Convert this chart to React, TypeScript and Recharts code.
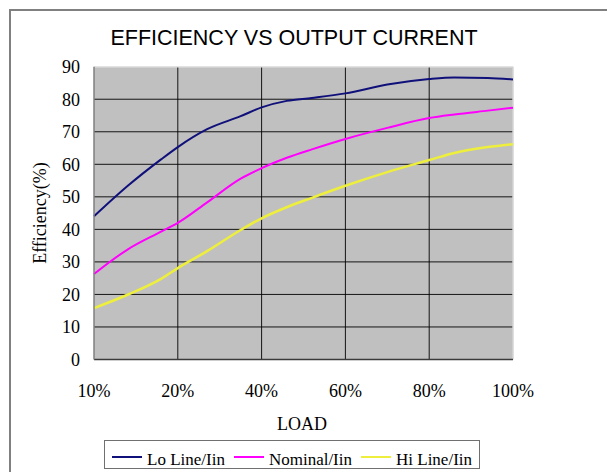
import { LineChart, Line, XAxis, YAxis, CartesianGrid, ReferenceLine } from 'recharts';

// x axis categories (equally spaced on the chart)
const loadLabels = ['10%', '20%', '40%', '60%', '80%', '100%'];
const yTicks = [0, 10, 20, 30, 40, 50, 60, 70, 80, 90];

// sample positions along the load axis (0 = 10%, 5 = 100%)
const loadPos = [0, 0.4, 0.8, 1.0, 1.35, 1.75, 2.0, 2.3, 2.6, 3.0, 3.5, 4.0, 4.3, 4.7, 5.0];
const loLine = [44.0, 53.3, 61.5, 65.3, 70.8, 74.8, 77.5, 79.5, 80.4, 81.8, 84.5, 86.2, 86.7, 86.5, 86.1];
const nominal = [26.3, 33.8, 39.3, 42.0, 48.3, 55.6, 58.8, 62.0, 64.6, 67.8, 71.2, 74.2, 75.3, 76.5, 77.4];
const hiLine = [15.8, 19.9, 24.8, 28.1, 33.3, 39.8, 43.4, 46.8, 49.7, 53.4, 57.6, 61.3, 63.5, 65.3, 66.2];

const series = [
  { key: 'lo', name: 'Lo Line/Iin', color: '#10107a', width: 2 },
  { key: 'nom', name: 'Nominal/Iin', color: '#ff00ff', width: 2 },
  { key: 'hi', name: 'Hi Line/Iin', color: '#eeee3c', width: 2.5 },
];

const data = loadPos.map((x, i) => ({ x, lo: loLine[i], nom: nominal[i], hi: hiLine[i] }));

const serif = '"Liberation Serif", "Times New Roman", serif';
const sans = '"Liberation Sans", Arial, sans-serif';

export default function App() {
  return (
    <div style={{ position: 'relative', width: 607, height: 464, overflow: 'hidden', background: '#fff' }}>
      {/* chart frame, only top/left edges visible */}
      <div
        style={{
          position: 'absolute',
          left: 1,
          top: 1,
          width: 640,
          height: 500,
          borderTop: '2px solid #808080',
          borderLeft: '2px solid #808080',
        }}
      />
      <div
        style={{
          position: 'absolute',
          left: 0,
          top: 20,
          width: 572,
          textAlign: 'center',
          fontFamily: sans,
          fontSize: 21.5,
          color: '#000',
          lineHeight: '20px',
        }}
      >
        EFFICIENCY VS OUTPUT CURRENT
      </div>
      <div style={{ position: 'absolute', left: 0, top: 0 }}>
        <LineChart
          width={607}
          height={464}
          data={data}
          margin={{ top: 58.7, right: 102, left: 26, bottom: 72.5 }}
        >
          <CartesianGrid
            fill="#c0c0c0"
            stroke="#000"
            strokeOpacity={0.9}
            horizontalValues={[10, 20, 30, 40, 50, 60, 70, 80]}
            verticalValues={[1, 2, 3, 4]}
          />
          <ReferenceLine y={90} stroke="#e2e2e2" strokeWidth={1.5} />
          <ReferenceLine x={5} stroke="#d4d4d4" strokeWidth={1.5} />
          <XAxis
            type="number"
            dataKey="x"
            domain={[0, 5]}
            ticks={[0, 1, 2, 3, 4, 5]}
            tickFormatter={(v: number) => loadLabels[v]}
            height={40}
            tickSize={0}
            tickMargin={24.5}
            axisLine={{ stroke: '#3a3a3a', strokeWidth: 1.5 }}
            tickLine={false}
            tick={{ fill: '#000', fontSize: 18, fontFamily: serif }}
          />
          <YAxis
            domain={[0, 90]}
            ticks={yTicks}
            width={60}
            tickSize={0}
            tickMargin={14}
            axisLine={{ stroke: '#808080', strokeWidth: 1.5 }}
            tickLine={false}
            tick={{ fill: '#000', fontSize: 18, fontFamily: serif }}
          />
          {series.map((s) => (
            <Line
              key={s.key}
              type="monotone"
              dataKey={s.key}
              name={s.name}
              stroke={s.color}
              strokeWidth={s.width}
              dot={false}
              isAnimationActive={false}
            />
          ))}
        </LineChart>
      </div>
      {/* y axis title */}
      <div
        style={{
          position: 'absolute',
          left: 32,
          top: 205,
          width: 0,
          height: 0,
        }}
      >
        <div
          style={{
            position: 'absolute',
            transform: 'translate(-50%, -50%) rotate(-90deg)',
            whiteSpace: 'nowrap',
            fontFamily: serif,
            fontSize: 18,
            color: '#000',
          }}
        >
          Efficiency(%)
        </div>
      </div>
      {/* x axis title */}
      <div
        style={{
          position: 'absolute',
          left: 194,
          top: 405,
          width: 200,
          textAlign: 'center',
          fontFamily: serif,
          fontSize: 18,
          lineHeight: '22px',
          color: '#000',
        }}
      >
        LOAD
      </div>
      {/* legend */}
      <div
        style={{
          position: 'absolute',
          left: 96,
          top: 432,
          width: 374,
          height: 27,
          border: '1px solid #707070',
          background: '#fff',
        }}
      >
        <div
          style={{
            position: 'absolute',
            left: 7,
            top: 10,
            display: 'flex',
            alignItems: 'center',
            whiteSpace: 'nowrap',
          }}
        >
          {series.map((s, i) => (
            <div key={s.key} style={{ display: 'flex', alignItems: 'center', marginLeft: i === 0 ? 0 : 9 }}>
              <div
                style={{
                  width: 30,
                  height: 2,
                  background: s.color,
                  position: 'relative',
                  top: -3,
                }}
              />
              <span style={{ marginLeft: 5, fontFamily: serif, fontSize: 17, lineHeight: '17px', color: '#000' }}>
                {s.name}
              </span>
            </div>
          ))}
        </div>
      </div>
    </div>
  );
}
